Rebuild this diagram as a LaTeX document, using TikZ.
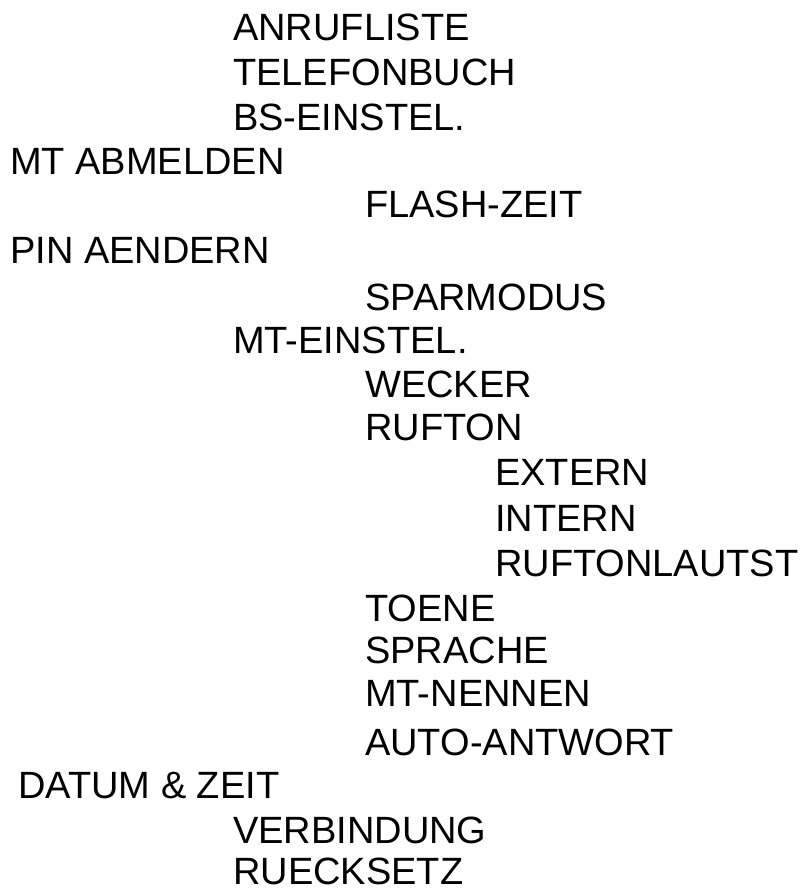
\documentclass[tikz,border=0pt]{standalone}
\usepackage{fontspec}
\setmainfont{Liberation Sans}
\begin{document}
\begin{tikzpicture}[x=1pt, y=-1pt,
entry/.style={anchor=base west, inner sep=0pt, font=\fontsize{38}{41}\selectfont}]
\useasboundingbox (0,0) rectangle (810,890);

\node[entry] (anruf)   at (233,41)  {ANRUFLISTE};
\node[entry] (tbuch)   at (233,86)  {TELEFONBUCH};
\node[entry] (bsein)   at (233,131) {BS-EINSTEL.};
\node[entry] (mtab)    at (10,175)  {MT ABMELDEN};
\node[entry] (flash)   at (365,218) {FLASH-ZEIT};
\node[entry] (pin)     at (10,263)  {PIN AENDERN};
\node[entry] (spar)    at (365,310) {SPARMODUS};
\node[entry] (mtein)   at (233,353) {MT-EINSTEL.};
\node[entry] (wecker)  at (365,397) {WECKER};
\node[entry] (rufton)  at (365,440) {RUFTON};
\node[entry] (extern)  at (495,485) {EXTERN};
\node[entry] (intern)  at (495,531) {INTERN};
\node[entry] (laut)    at (495,576) {RUFTONLAUTST};
\node[entry] (toene)   at (365,621) {TOENE};
\node[entry] (sprache) at (365,663) {SPRACHE};
\node[entry] (nennen)  at (365,706) {MT-NENNEN};
\node[entry] (auto)    at (365,755) {AUTO-ANTWORT};
\node[entry] (datum)   at (18,798)  {DATUM \& ZEIT};
\node[entry] (verb)    at (233,843) {VERBINDUNG};
\node[entry] (reset)   at (233,884) {RUECKSETZ};

\end{tikzpicture}
\end{document}
